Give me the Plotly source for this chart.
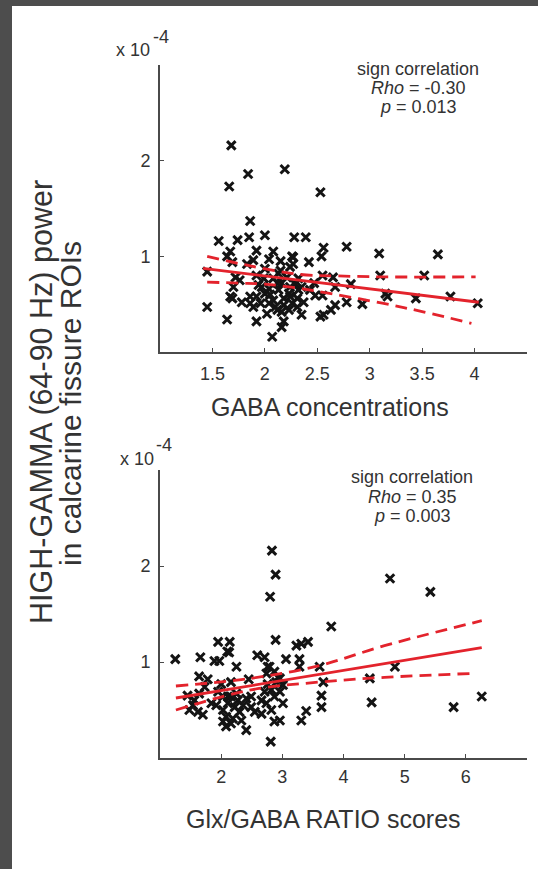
import plotly.graph_objects as go

# ---------------- data (power in units of 1e-4) ----------------
gaba_conc = [1.68,1.66,1.84,2.19,2.53,1.86,1.56,1.74,1.85,2.00,2.28,2.39,1.67,1.64,1.92,2.08,2.26,2.56,2.54,2.78,
             3.09,3.65,2.42,1.83,1.89,2.15,2.27,1.45,3.10,3.52,1.72,1.92,2.00,2.13,2.32,2.65,2.82,1.70,1.94,2.04,
             2.16,2.24,2.32,2.43,2.48,2.55,2.67,1.67,1.69,1.78,1.86,1.92,2.00,2.08,2.18,2.24,2.31,2.37,3.15,3.17,
             3.44,3.77,4.03,2.78,2.93,1.45,1.89,2.02,2.10,2.16,2.23,2.31,2.35,2.53,2.56,2.63,2.67,1.64,1.92,2.16,
             2.07,2.18,2.12,2.21,2.15,1.97,2.05,2.13,2.23,2.26,2.12,1.76,1.99,2.08,2.29,2.35,2.55,2.47,1.86,1.96,
             2.04,2.18,2.24,2.27,1.69,2.04]
power_gaba = [2.16,1.73,1.86,1.91,1.67,1.37,1.16,1.17,1.20,1.22,1.20,1.20,1.05,1.00,1.06,1.05,1.00,1.09,1.00,1.10,
              1.03,1.02,0.94,0.92,0.96,0.95,0.92,0.84,0.80,0.80,0.78,0.80,0.87,0.82,0.77,0.78,0.71,0.68,0.70,0.66,
              0.72,0.68,0.65,0.65,0.59,0.59,0.68,0.58,0.56,0.52,0.51,0.58,0.61,0.54,0.56,0.58,0.56,0.52,0.61,0.58,
              0.56,0.58,0.51,0.52,0.50,0.47,0.47,0.40,0.47,0.42,0.44,0.47,0.39,0.37,0.39,0.44,0.49,0.34,0.32,0.26,
              0.16,0.32,0.72,0.78,0.85,0.68,0.60,0.65,0.61,0.51,0.44,0.75,0.77,0.77,0.71,0.68,0.80,0.72,0.58,0.51,
              0.51,0.49,0.89,0.99,0.94,0.97]

gaba_fit_x = [1.41, 4.04]
gaba_fit_y = [0.875, 0.52]
gaba_ci_up_x = [1.45, 1.86, 2.34, 2.69, 3.13, 4.01]
gaba_ci_up_y = [1.00, 0.90, 0.81, 0.795, 0.785, 0.785]
gaba_ci_lo_x = [1.45, 1.75, 2.00, 2.30, 2.63, 3.12, 3.51, 3.97]
gaba_ci_lo_y = [0.73, 0.72, 0.71, 0.67, 0.61, 0.51, 0.42, 0.30]

ratio_score = [2.83,2.89,2.80,4.76,5.42,3.80,2.89,1.95,2.14,2.10,2.13,3.23,3.31,3.42,1.25,1.66,1.89,1.97,2.59,2.71,
               3.06,3.28,3.28,2.25,2.79,3.61,4.84,1.64,1.78,2.45,2.74,2.87,2.93,4.43,3.67,2.00,2.16,2.76,3.01,1.45,
               1.64,1.95,2.16,2.27,2.41,2.49,2.71,2.82,2.96,3.64,1.54,1.62,1.70,1.92,2.03,2.11,2.22,2.30,2.55,2.66,
               2.74,3.01,3.64,3.39,4.46,5.80,6.26,2.03,2.16,2.33,2.41,2.87,2.96,3.31,2.81,2.08,2.19,2.08,1.84,1.48,
               1.56,2.36,2.11,2.03,2.87,2.90,2.66,2.49,2.82,2.76,2.96,2.25,1.73]
power_ratio = [2.16,1.91,1.68,1.87,1.73,1.37,1.23,1.21,1.21,1.11,1.10,1.17,1.19,1.21,1.03,1.05,1.01,1.01,1.07,1.05,
               1.03,1.03,0.95,0.95,0.95,0.95,0.95,0.85,0.82,0.82,0.88,0.90,0.84,0.83,0.79,0.77,0.79,0.77,0.76,0.65,
               0.67,0.69,0.64,0.60,0.62,0.64,0.69,0.71,0.69,0.65,0.55,0.48,0.45,0.55,0.50,0.57,0.53,0.48,0.48,0.46,
               0.57,0.57,0.53,0.49,0.58,0.53,0.64,0.38,0.36,0.39,0.29,0.38,0.39,0.39,0.17,0.43,0.41,0.33,0.57,0.50,
               0.60,0.55,0.64,0.64,0.64,0.79,0.60,0.53,0.50,0.95,0.83,0.67,0.74]

ratio_fit_x = [1.26, 6.26]
ratio_fit_y = [0.625, 1.15]
ratio_ci_up_x = [1.26, 2.49, 3.59, 4.67, 6.26]
ratio_ci_up_y = [0.75, 0.83, 0.96, 1.17, 1.43]
ratio_ci_lo_x = [1.26, 2.49, 3.59, 4.67, 6.07]
ratio_ci_lo_y = [0.50, 0.71, 0.79, 0.84, 0.88]

top_xticks = [1.5, 2, 2.5, 3, 3.5, 4, 4.5]
top_xticklabels = ["1.5", "2", "2.5", "3", "3.5", "4", ""]
bot_xticks = [2, 3, 4, 5, 6, 7]
bot_xticklabels = ["2", "3", "4", "5", "6", ""]
y_ticks = [1, 2]
y_ticklabels = ["1", "2"]

y_title_lines = ["HIGH-GAMMA (64-90 Hz) power", "in calcarine fissure ROIs"]
top_xtitle = "GABA concentrations"
bot_xtitle = "Glx/GABA RATIO scores"
top_stats = ["sign correlation", "<i>Rho</i> = -0.30", "<i>p</i> = 0.013"]
bot_stats = ["sign correlation", "<i>Rho</i> = 0.35", "<i>p</i> = 0.003"]

# ---------------- figure ----------------
W, H = 538, 869
FONT = "Liberation Sans, Arial, Helvetica, sans-serif"
TXT = "#333333"
RED = "#e3232c"
AX = "#4a4a4a"

def px(x):
    return x / W

def py(y):
    return 1 - y / H

fig = go.Figure()

marker = dict(symbol="x-thin", size=8.5, line=dict(width=3, color="#141414"))

for xs, ys, xa, ya in [(gaba_conc, power_gaba, "x", "y"), (ratio_score, power_ratio, "x2", "y2")]:
    fig.add_trace(go.Scatter(x=xs, y=ys, mode="markers", marker=marker, xaxis=xa, yaxis=ya,
                             showlegend=False, hoverinfo="skip"))

lines = [
    (gaba_fit_x, gaba_fit_y, "solid", "x", "y"),
    (gaba_ci_up_x, gaba_ci_up_y, "12px,7px", "x", "y"),
    (gaba_ci_lo_x, gaba_ci_lo_y, "12px,7px", "x", "y"),
    (ratio_fit_x, ratio_fit_y, "solid", "x2", "y2"),
    (ratio_ci_up_x, ratio_ci_up_y, "12px,7px", "x2", "y2"),
    (ratio_ci_lo_x, ratio_ci_lo_y, "12px,7px", "x2", "y2"),
]
for xs, ys, dash, xa, ya in lines:
    fig.add_trace(go.Scatter(x=xs, y=ys, mode="lines", line=dict(color=RED, width=2.8, dash=dash, shape="spline"),
                             xaxis=xa, yaxis=ya, showlegend=False, hoverinfo="skip"))

axis_common = dict(showline=True, linecolor=AX, linewidth=1.6, ticks="inside", ticklen=4, tickwidth=1.3,
                   tickcolor=AX, showgrid=False, zeroline=False, mirror=False,
                   tickfont=dict(family=FONT, size=18, color=TXT))

fig.update_layout(
    width=W, height=H, margin=dict(l=0, r=0, t=0, b=0),
    paper_bgcolor="white", plot_bgcolor="white",
    xaxis=dict(axis_common, domain=[px(160), px(527)], range=[1, 4.5], tickvals=top_xticks,
               ticktext=top_xticklabels, anchor="y", ticklabelstandoff=5),
    yaxis=dict(axis_common, domain=[py(352), py(65)], range=[0, 3], tickvals=y_ticks,
               ticktext=y_ticklabels, anchor="x", ticklabelstandoff=4),
    xaxis2=dict(axis_common, domain=[px(160), px(527)], range=[1, 7], tickvals=bot_xticks,
                ticktext=bot_xticklabels, anchor="y2", ticklabelstandoff=2),
    yaxis2=dict(axis_common, domain=[py(758), py(470)], range=[0, 3], tickvals=y_ticks,
                ticktext=y_ticklabels, anchor="x2", ticklabelstandoff=4),
)

ann = []
def add_text(text, x, y, size, angle=0):
    ann.append(dict(text=text, x=px(x), y=py(y), xref="paper", yref="paper", showarrow=False,
                    xanchor="center", yanchor="middle", textangle=angle,
                    font=dict(family=FONT, size=size, color=TXT)))

# exponent labels
add_text("x 10", 133, 50, 18)
add_text("-4", 161, 37, 18)
add_text("x 10", 137, 459, 18)
add_text("-4", 164, 445, 18)

# axis titles
add_text(y_title_lines[0], 41, 402, 30.5, -90)
add_text(y_title_lines[1], 70, 404, 30, -90)
add_text(top_xtitle, 330, 407, 25)
add_text(bot_xtitle, 323, 819, 25)

# stats
for t, yy in zip(top_stats, [69, 88, 107]):
    add_text(t, 418, yy, 18)
for t, yy in zip(bot_stats, [477, 497, 516]):
    add_text(t, 412, yy, 18)

fig.update_layout(annotations=ann)

# dark frame edges of the screenshot
fig.add_shape(type="rect", xref="paper", yref="paper", x0=0, x1=px(12), y0=0, y1=1,
              fillcolor="#4d4d4d", line=dict(width=0), layer="above")
fig.add_shape(type="rect", xref="paper", yref="paper", x0=0, x1=1, y0=py(6), y1=1,
              fillcolor="#4d4d4d", line=dict(width=0), layer="above")

fig.write_html("out.html", config={"displayModeBar": False},
               post_script="document.body.style.margin='0px';")
